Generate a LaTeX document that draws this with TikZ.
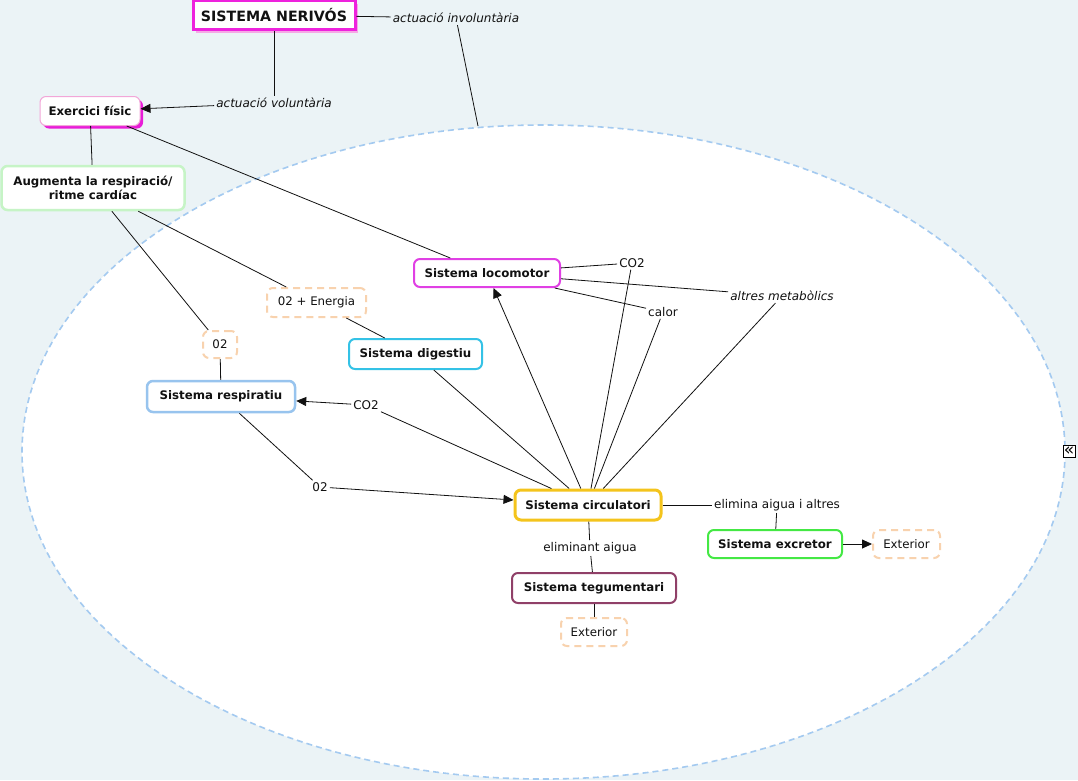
\documentclass[tikz,border=0pt]{standalone}
\usepackage{fontspec}
\setmainfont{DejaVu Sans}
\usetikzlibrary{arrows.meta,shadows}
\definecolor{bgc}{HTML}{EBF3F6}
\definecolor{ellc}{HTML}{A4CAF0}
\definecolor{magc}{HTML}{EE22DD}
\definecolor{magsh}{HTML}{F6A8E6}
\definecolor{exbord}{HTML}{F2A6D8}
\definecolor{exsh}{HTML}{E81CD8}
\definecolor{augc}{HTML}{C6F4C6}
\definecolor{locc}{HTML}{E040E4}
\definecolor{peach}{HTML}{F8D2AE}
\definecolor{digc}{HTML}{34C2E6}
\definecolor{resc}{HTML}{98C4EE}
\definecolor{circc}{HTML}{F4C41C}
\definecolor{excc}{HTML}{44E844}
\definecolor{tegc}{HTML}{904068}
\definecolor{txt}{HTML}{111111}
\tikzset{
  base/.style={rounded corners=6pt, fill=white, text=txt, font=\fontsize{11.8}{14}\selectfont\bfseries, inner sep=0pt, align=center},
  concept/.style={base, draw=#1, line width=2pt},
  dashbox/.style={base, draw=peach, line width=2pt, dash pattern=on 7pt off 5pt, font=\fontsize{11.8}{14}\selectfont},
  lbl/.style={text=txt, font=\fontsize{12}{14}\selectfont, inner sep=2pt},
  ilbl/.style={lbl, font=\fontsize{12}{14}\selectfont\itshape},
  conn/.style={draw=txt, line width=0.8pt},
  arr/.style={conn, -{Triangle[length=10pt,width=9pt]}},
}
\begin{document}
\begin{tikzpicture}[x=1pt,y=-1pt]
\fill[bgc] (0,0) rectangle (1078,780);
\useasboundingbox (0,0) rectangle (1078,780);
\draw[ellc, fill=white, line width=1.6pt, dash pattern=on 6pt off 4pt] (543.5,452) ellipse [x radius=521.5, y radius=327];
\coordinate (ellT) at (478,126);

% concepts
\node[base, draw=magc, line width=3pt, minimum width=162pt, minimum height=29pt, rounded corners=0pt,
  font=\fontsize{14.2}{16}\selectfont\bfseries,
  drop shadow={shadow xshift=3pt, shadow yshift=-3pt, fill=magsh, opacity=1}] (nerv) at (274,15) {SISTEMA NERIVÓS};
\node[base, draw=exbord, line width=1pt, minimum width=100pt, minimum height=29pt,
  drop shadow={shadow xshift=3pt, shadow yshift=-3pt, fill=exsh, opacity=1}] (exerc) at (90,111) {Exercici físic};
\node[concept=augc, line width=2.5pt, minimum width=183pt, minimum height=44pt] (aug) at (93,188) {Augmenta la respiració/\\ritme cardíac};
\node[concept=locc, minimum width=146pt, minimum height=28pt] (loco) at (487,273) {Sistema locomotor};
\node[dashbox, minimum width=99pt, minimum height=29pt] (oe) at (316.5,302.5) {02 + Energia};
\node[dashbox, minimum width=34pt, minimum height=27pt] (o2a) at (220,344.5) {02};
\node[concept=digc, minimum width=133pt, minimum height=30pt] (dig) at (415.5,354) {Sistema digestiu};
\node[concept=resc, line width=2.5pt, minimum width=148pt, minimum height=31pt] (resp) at (221,396.5) {Sistema respiratiu};
\node[concept=circc, line width=3pt, minimum width=146pt, minimum height=30pt] (circ) at (588,505) {Sistema circulatori};
\node[concept=excc, minimum width=134pt, minimum height=28pt] (exc) at (775,544) {Sistema excretor};
\node[dashbox, minimum width=67pt, minimum height=28pt] (ext1) at (906.5,544) {Exterior};
\node[concept=tegc, minimum width=164pt, minimum height=30pt] (teg) at (594,588) {Sistema tegumentari};
\node[dashbox, minimum width=66pt, minimum height=28pt] (ext2) at (594,632) {Exterior};

% linking phrases
\node[ilbl] (invol) at (456,18) {actuació involuntària};
\node[ilbl] (vol) at (274,103) {actuació voluntària};
\node[lbl] (co2a) at (632,263) {CO2};
\node[lbl] (calor) at (663,312) {calor};
\node[ilbl] (altres) at (782,296) {altres metabòlics};
\node[lbl] (co2b) at (366,405) {CO2};
\node[lbl] (o2b) at (320,487) {02};
\node[lbl] (elim) at (777,505) {elimina aigua i altres};
\node[lbl] (elimt) at (590,548) {eliminant aigua};

% side icon
\node[draw=black, line width=0.9pt, fill=white, inner sep=0pt, minimum size=12pt,
  font=\fontsize{17}{17}\selectfont] (icon) at (1069,451) {\raisebox{0.6pt}{«}};

% connectors
\draw[conn] (nerv) -- (invol);
\draw[conn] (invol) -- (ellT);
\draw[conn] (nerv) -- (vol);
\draw[arr] (vol) -- (exerc);
\draw[conn] (exerc) -- (aug);
\draw[conn] (exerc) -- (loco);
\draw[conn] (aug) -- (o2a);
\draw[conn] (aug) -- (oe);
\draw[conn] (oe) -- (dig);
\draw[conn] (o2a) -- (resp);
\draw[conn] (resp) -- (o2b);
\draw[arr] (o2b) -- (circ);
\draw[conn] (circ) -- (co2b);
\draw[arr] (co2b) -- (resp);
\draw[conn] (dig) -- (circ);
\draw[arr] (circ) -- (loco);
\draw[conn] (circ) -- (co2a);
\draw[conn] (circ) -- (calor);
\draw[conn] (circ) -- (altres);
\draw[conn] (loco) -- (co2a);
\draw[conn] (loco) -- (altres);
\draw[conn] (loco) -- (calor);
\draw[conn] (circ) -- (elim);
\draw[conn] (elim) -- (exc);
\draw[arr] (exc) -- (ext1);
\draw[conn] (circ) -- (elimt);
\draw[conn] (elimt) -- (teg);
\draw[conn] (teg) -- (ext2);
\end{tikzpicture}
\end{document}
